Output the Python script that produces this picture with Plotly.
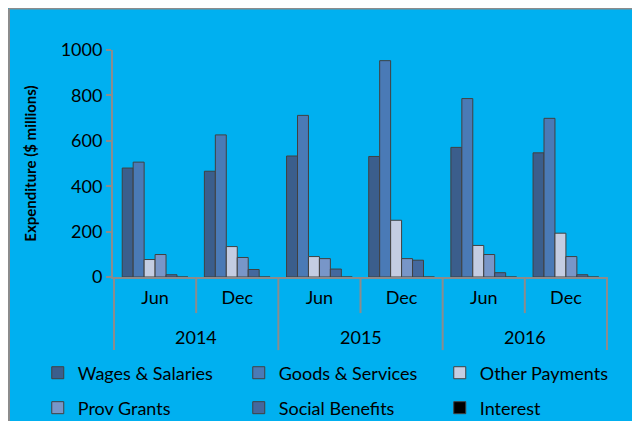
import plotly.graph_objects as go

years = ["2014", "2014", "2015", "2015", "2016", "2016"]
months = ["Jun", "Dec", "Jun", "Dec", "Jun", "Dec"]

series_names = ["Wages & Salaries", "Goods & Services", "Other Payments",
                "Prov Grants", "Social Benefits", "Interest"]
wages = [480, 466, 533, 531, 571, 547]
goods = [506, 626, 712, 953, 786, 699]
other = [77, 134, 90, 250, 139, 193]
prov = [99, 86, 81, 81, 99, 90]
social = [10, 33, 35, 74, 19, 10]
interest = [0, 0, 0, 0, 0, 0]
colors = ["#3B5E8C", "#4A7AB6", "#C4CDE2", "#7896C8", "#44689D", "#000000"]

yticks = [0, 200, 400, 600, 800, 1000]

FONT = "Lato, Open Sans, sans-serif"
GRAY = "#8C8C8C"
cats = [f"{y} {m}" for y, m in zip(years, months)]

fig = go.Figure()
for i, (name, vals, c) in enumerate(zip(series_names, [wages, goods, other, prov, social, interest], colors)):
    fig.add_trace(go.Bar(x=cats, y=vals, name=name,
                         legend="legend" if i < 3 else "legend2",
                         marker=dict(color=c, line=dict(color="#404040", width=1))))

# chart border (left and top) and divider lines below the axis at category boundaries
shapes = [
    dict(type="line", xref="paper", yref="paper", x0=-0.2101, x1=-0.2101,
         y0=-2.0, y1=1.183, line=dict(color=GRAY, width=2), layer="below"),
    dict(type="line", xref="paper", yref="paper", x0=-0.2101, x1=2.0,
         y0=1.183, y1=1.183, line=dict(color=GRAY, width=2), layer="below"),
]
n = len(cats)
for k in range(n + 1):
    b = k - 0.5
    is_year_boundary = (k == 0 or k == n or years[k] != years[k - 1])
    shapes.append(dict(type="line", xref="x", yref="paper", x0=b, x1=b,
                       y0=0, y1=(-0.322 if is_year_boundary else -0.159),
                       line=dict(color=GRAY, width=2)))

annotations = []
uniq_years = sorted(set(years))
for yv in uniq_years:
    idx = [i for i, v in enumerate(years) if v == yv]
    annotations.append(dict(x=sum(idx) / len(idx), y=-0.264, xref="x", yref="paper",
                            text=yv, showarrow=False, font=dict(size=18),
                            xanchor="center", yanchor="middle"))

fig.update_layout(
    width=640, height=421,
    margin=dict(l=105, r=40, t=42, b=152, autoexpand=False),
    paper_bgcolor="#00B0F0",
    plot_bgcolor="rgba(0,0,0,0)",
    barmode="group", bargap=0.2, bargroupgap=0,
    font=dict(family=FONT, size=18, color="black"),
    showlegend=True,
    legend=dict(orientation="h", x=-0.152, y=-0.423, xanchor="left", yanchor="middle",
                entrywidth=156, entrywidthmode="pixels", font=dict(size=18),
                itemwidth=30, bgcolor="rgba(0,0,0,0)"),
    legend2=dict(orientation="h", x=-0.152, y=-0.577, xanchor="left", yanchor="middle",
                 entrywidth=156, entrywidthmode="pixels", font=dict(size=18),
                 itemwidth=30, bgcolor="rgba(0,0,0,0)"),
    xaxis=dict(type="category", showline=True, linecolor=GRAY, linewidth=2,
               ticks="", tickvals=cats, ticktext=months, ticklabelstandoff=3,
               tickfont=dict(size=18), showgrid=False),
    yaxis=dict(range=[0, 1000], tickvals=yticks, showline=True, linecolor=GRAY,
               linewidth=2, ticks="outside", ticklen=5, tickwidth=2, tickcolor=GRAY,
               showgrid=False, zeroline=False, tickfont=dict(size=18),
               title=dict(text="<b>Expenditure ($ millions)</b>", font=dict(size=15), standoff=20)),
    shapes=shapes,
    annotations=annotations,
)

fig.write_html("out.html", post_script="document.body.style.overflow='hidden';")
